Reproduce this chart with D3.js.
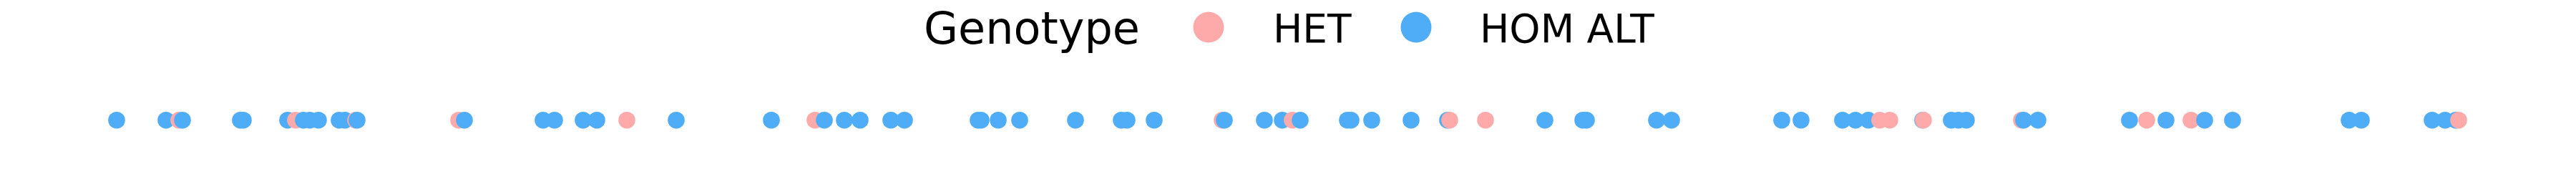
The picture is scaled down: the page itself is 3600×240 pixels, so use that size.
<!DOCTYPE html>
<html>
<head>
<meta charset="utf-8">
<script src="https://cdn.jsdelivr.net/npm/d3@7"></script>
<style>
  body { margin: 0; background: #ffffff; }
  text { font-family: "DejaVu Sans", sans-serif; }
</style>
</head>
<body>
<script>
//genotype categories and their colours
var categories = ["HET", "HOM ALT"];
var colors = ["#ffaaaa", "#4facf7"];

//variant positions along the strip, sorted
var positions = [0, 69, 87, 92, 173, 177, 239, 250, 261, 270, 282, 311, 319, 334, 336,
    478, 486, 596, 612, 652, 671, 713, 782, 915, 976, 989, 1017, 1039, 1082, 1101,
    1204, 1208, 1232, 1262, 1340, 1404, 1412, 1450, 1545, 1548, 1604, 1629, 1643, 1654,
    1720, 1725, 1754, 1809, 1860, 1863, 1913, 1996, 2049, 2054, 2152, 2173, 2327, 2354,
    2412, 2430, 2448, 2464, 2478, 2524, 2525, 2564, 2574, 2585, 2662, 2665, 2685, 2813,
    2837, 2864, 2899, 2918, 2957, 3120, 3137, 3236, 3254, 3269, 3273];

//genotype of each position (0 = HET, 1 = HOM ALT)
var genotypes = [1, 1, 0, 1, 1, 1, 1, 0, 1, 1, 1, 1, 1, 0, 1,
    0, 1, 1, 1, 1, 1, 0, 1, 1, 0, 1, 1, 1, 1, 1,
    1, 1, 1, 1, 1, 1, 1, 1, 0, 1, 1, 1, 0, 1,
    1, 1, 1, 1, 1, 0, 0, 1, 1, 1, 1, 1, 1, 1,
    1, 1, 1, 0, 0, 1, 0, 1, 1, 1, 0, 1, 1, 1,
    0, 1, 0, 1, 1, 1, 1, 1, 1, 1, 0, 1];

//SVG dimension variables
var w = 3600, h = 240;

var svg = d3.select("body")
    .append("svg")
    .attr("width", w)
    .attr("height", h);

//x scale for the positions, y is a single row
var x = d3.scaleLinear()
    .domain(d3.extent(positions))
    .range([163, 3436]);

var y = d3.scalePoint()
    .domain(["row"])
    .range([167.7, 167.7]);

var color = d3.scaleOrdinal()
    .domain(categories)
    .range(colors);

//dots, drawn in position order so later ones sit on top
svg.append("g")
    .selectAll("circle")
    .data(positions)
    .enter()
    .append("circle")
    .attr("cx", function(d){ return x(d); })
    .attr("cy", y("row"))
    .attr("r", 11.8)
    .style("fill", function(d, i){ return color(categories[genotypes[i]]); });

//legend
var legend = svg.append("g").attr("class", "legend");

legend.append("text")
    .attr("x", 1291)
    .attr("y", 61)
    .style("font-size", "62px")
    .text("Genotype");

var items = [
    {label: categories[0], cx: 1689, tx: 1779},
    {label: categories[1], cx: 1979, tx: 2068}
];

legend.selectAll("circle")
    .data(items)
    .enter()
    .append("circle")
    .attr("cx", function(d){ return d.cx; })
    .attr("cy", 38)
    .attr("r", 21.5)
    .style("fill", function(d){ return color(d.label); });

legend.selectAll("text.item")
    .data(items)
    .enter()
    .append("text")
    .attr("class", "item")
    .attr("x", function(d){ return d.tx; })
    .attr("y", 59)
    .style("font-size", "55px")
    .text(function(d){ return d.label; });
</script>
</body>
</html>
